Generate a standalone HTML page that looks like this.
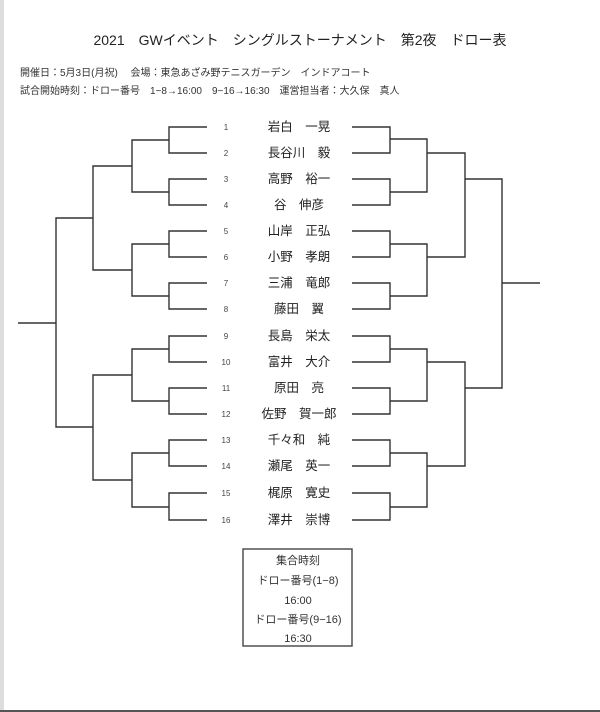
<!DOCTYPE html>
<html><head><meta charset="utf-8"><style>
html,body{margin:0;padding:0;background:#fff;}
body{width:600px;height:712px;position:relative;overflow:hidden;font-family:"Liberation Sans","Noto Sans CJK JP",sans-serif;}
svg{position:absolute;left:0;top:0;}
</style></head><body>
<svg width="600" height="712" viewBox="0 0 600 712" xmlns="http://www.w3.org/2000/svg" font-family="Liberation Sans, Noto Sans CJK JP, sans-serif">
<rect x="0" y="0" width="4" height="712" fill="#ddd"/>
<rect x="0" y="710" width="600" height="2" fill="#555"/>
<text x="300" y="45" font-size="14" text-anchor="middle" fill="#222">2021　GWイベント　シングルストーナメント　第2夜　ドロー表</text>
<text x="20" y="76" font-size="10" fill="#333">開催日：5月3日(月祝)　 会場：東急あざみ野テニスガーデン　インドアコート</text>
<text x="20" y="94" font-size="10" fill="#333">試合開始時刻：ドロー番号　1−8→16:00　9−16→16:30　運営担当者：大久保　真人</text>
<g fill="#444" font-size="8" text-anchor="middle">
<text x="226" y="130">1</text><text x="226" y="156">2</text><text x="226" y="182">3</text><text x="226" y="208">4</text>
<text x="226" y="234">5</text><text x="226" y="260">6</text><text x="226" y="286">7</text><text x="226" y="312">8</text>
<text x="226" y="339">9</text><text x="226" y="365">10</text><text x="226" y="391">11</text><text x="226" y="417">12</text>
<text x="226" y="443">13</text><text x="226" y="469">14</text><text x="226" y="496">15</text><text x="226" y="523">16</text>
</g>
<g fill="#222" font-size="12.5" text-anchor="middle">
<text x="299" y="131">岩白　一晃</text><text x="299" y="157">長谷川　毅</text><text x="299" y="183">高野　裕一</text><text x="299" y="209">谷　伸彦</text>
<text x="299" y="235">山岸　正弘</text><text x="299" y="261">小野　孝朗</text><text x="299" y="287">三浦　竜郎</text><text x="299" y="313">藤田　翼</text>
<text x="299" y="340">長島　栄太</text><text x="299" y="366">富井　大介</text><text x="299" y="392">原田　亮</text><text x="299" y="418">佐野　賀一郎</text>
<text x="299" y="444">千々和　純</text><text x="299" y="470">瀬尾　英一</text><text x="299" y="497">梶原　寛史</text><text x="299" y="524">澤井　崇博</text>
</g>
<g stroke="#333" stroke-width="1.4" fill="none">
<path d="M207 127H169V153H207M207 179H169V205H207M207 231H169V257H207M207 283H169V309H207M207 336H169V362H207M207 388H169V414H207M207 440H169V466H207M207 493H169V520H207"/>
<path d="M169 140H132V192H169M169 244H132V296H169M169 349H132V401H169M169 453H132V507H169"/>
<path d="M132 166H93V270H132M132 375H93V480H132"/>
<path d="M93 218H56V427H93M56 323H18"/>
<path d="M352 127H390V153H352M352 179H390V205H352M352 231H390V257H352M352 283H390V309H352M352 336H390V362H352M352 388H390V414H352M352 440H390V466H352M352 493H390V520H352"/>
<path d="M390 139H427V192H390M390 244H427V296H390M390 349H427V401H390M390 453H427V507H390"/>
<path d="M427 153H465V257H427M427 362H465V466H427"/>
<path d="M465 179H502V388H465M502 283H540"/>
</g>
<rect x="243" y="549" width="109" height="97" fill="none" stroke="#444" stroke-width="1.4"/>
<g fill="#333" font-size="11" text-anchor="middle">
<text x="298" y="564">集合時刻</text>
<text x="298" y="584">ドロー番号(1−8)</text>
<text x="298" y="604">16:00</text>
<text x="298" y="623">ドロー番号(9−16)</text>
<text x="298" y="642">16:30</text>
</g>
</svg>
</body></html>
